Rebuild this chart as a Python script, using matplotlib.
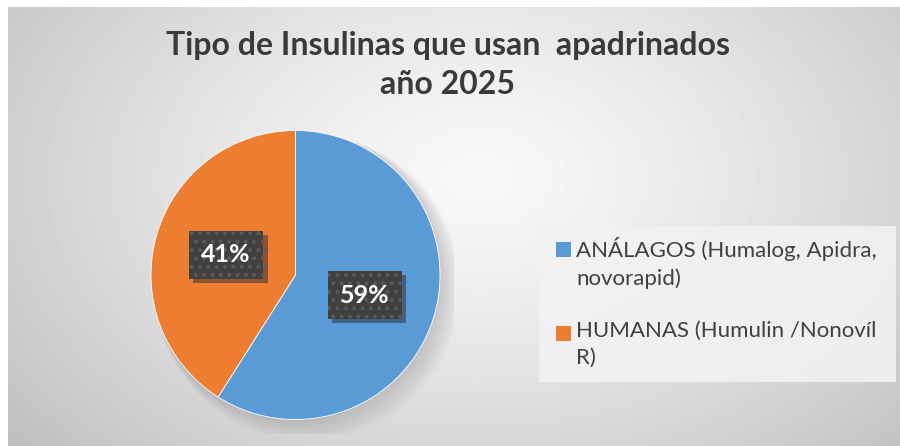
import numpy as np
import matplotlib
matplotlib.use("Agg")
import matplotlib.pyplot as plt
import matplotlib.patheffects as pe
from matplotlib.patches import Rectangle, Circle

plt.rcParams['font.family'] = ['Lato', 'DejaVu Sans']
plt.rcParams['hatch.linewidth'] = 1.6

# datos del grafico
categorias = ["ANÁLAGOS (Humalog, Apidra,\nnovorapid)",
              "HUMANAS (Humulin /Nonovíl\nR)"]
porcentajes = [59, 41]
colores = ['#5B9BD5', '#ED7D31']
titulo = "Tipo de Insulinas que usan  apadrinados\naño 2025"

W, H = 900, 446
fig = plt.figure(figsize=(W / 100, H / 100), dpi=100)
fig.patch.set_facecolor('white')

# fondo con degradado radial
bg = fig.add_axes([8 / W, 0, 1 - 8 / W, (H - 7) / H])
yy, xx = np.mgrid[0:439, 0:892]
d = np.sqrt(((xx - 470) / 620.0) ** 2 + ((yy - 170) / 420.0) ** 2)
d = np.clip(d, 0, 1)
val = 0.975 - 0.23 * d ** 1.3
bg.imshow(val, cmap='gray', vmin=0, vmax=1, aspect='auto', interpolation='bilinear')
bg.axis('off')

# titulo
fig.text(448 / W, 1 - 65 / H, titulo, ha='center', va='center', fontsize=23,
         fontweight='bold', color='#3a3a3a', linespacing=1.45)

# pastel
cx, cy, R = 295.5, 275, 144.5
ax = fig.add_axes([(cx - R * 1.1) / W, (H - cy - R * 1.1) / H, 2.2 * R / W, 2.2 * R / H])
for k in range(8):
    ax.add_patch(Circle((0.012 * k, -0.012 * k), 1 + 0.008 * k, color='#808080',
                        alpha=0.05, lw=0, zorder=0))
wedges, texts, autotexts = ax.pie(porcentajes, colors=colores, startangle=90,
                                  counterclock=False, autopct='%1.0f%%',
                                  pctdistance=0.5, radius=1,
                                  wedgeprops=dict(linewidth=0.6, edgecolor='#ffffff'))
ax.set_xlim(-1.1, 1.1)
ax.set_ylim(-1.1, 1.1)
for t in autotexts:
    t.set_color('white')
    t.set_fontsize(18)
    t.set_fontweight('bold')
    t.set_bbox(dict(boxstyle='square,pad=0.5', facecolor='#404040',
                    edgecolor='#5a5a5a', linewidth=0, hatch='..'))
    t.get_bbox_patch().set_path_effects([
        pe.SimplePatchShadow(offset=(3, -3), shadow_rgbFace='#202020', alpha=0.45),
        pe.Normal()])
ax.axis('off')

# leyenda
lx0, ly0, lx1, ly1 = 539, 226, 896, 382
fig.patches.append(Rectangle((lx0 / W, 1 - ly1 / H), (lx1 - lx0) / W, (ly1 - ly0) / H,
                             transform=fig.transFigure, facecolor='#f2f2f2',
                             edgecolor='none', alpha=0.9, zorder=1))
filas = [242, 326]
for lab, col, y in zip(categorias, colores, filas):
    fig.patches.append(Rectangle((556 / W, 1 - (y + 15) / H), 15 / W, 15 / H,
                                 transform=fig.transFigure, facecolor=col,
                                 edgecolor='none', zorder=2))
    fig.text(576 / W, 1 - (y - 5) / H, lab, ha='left', va='top', fontsize=16,
             color='#404040', linespacing=1.45, zorder=3)

fig.savefig('out.png', dpi=100)
